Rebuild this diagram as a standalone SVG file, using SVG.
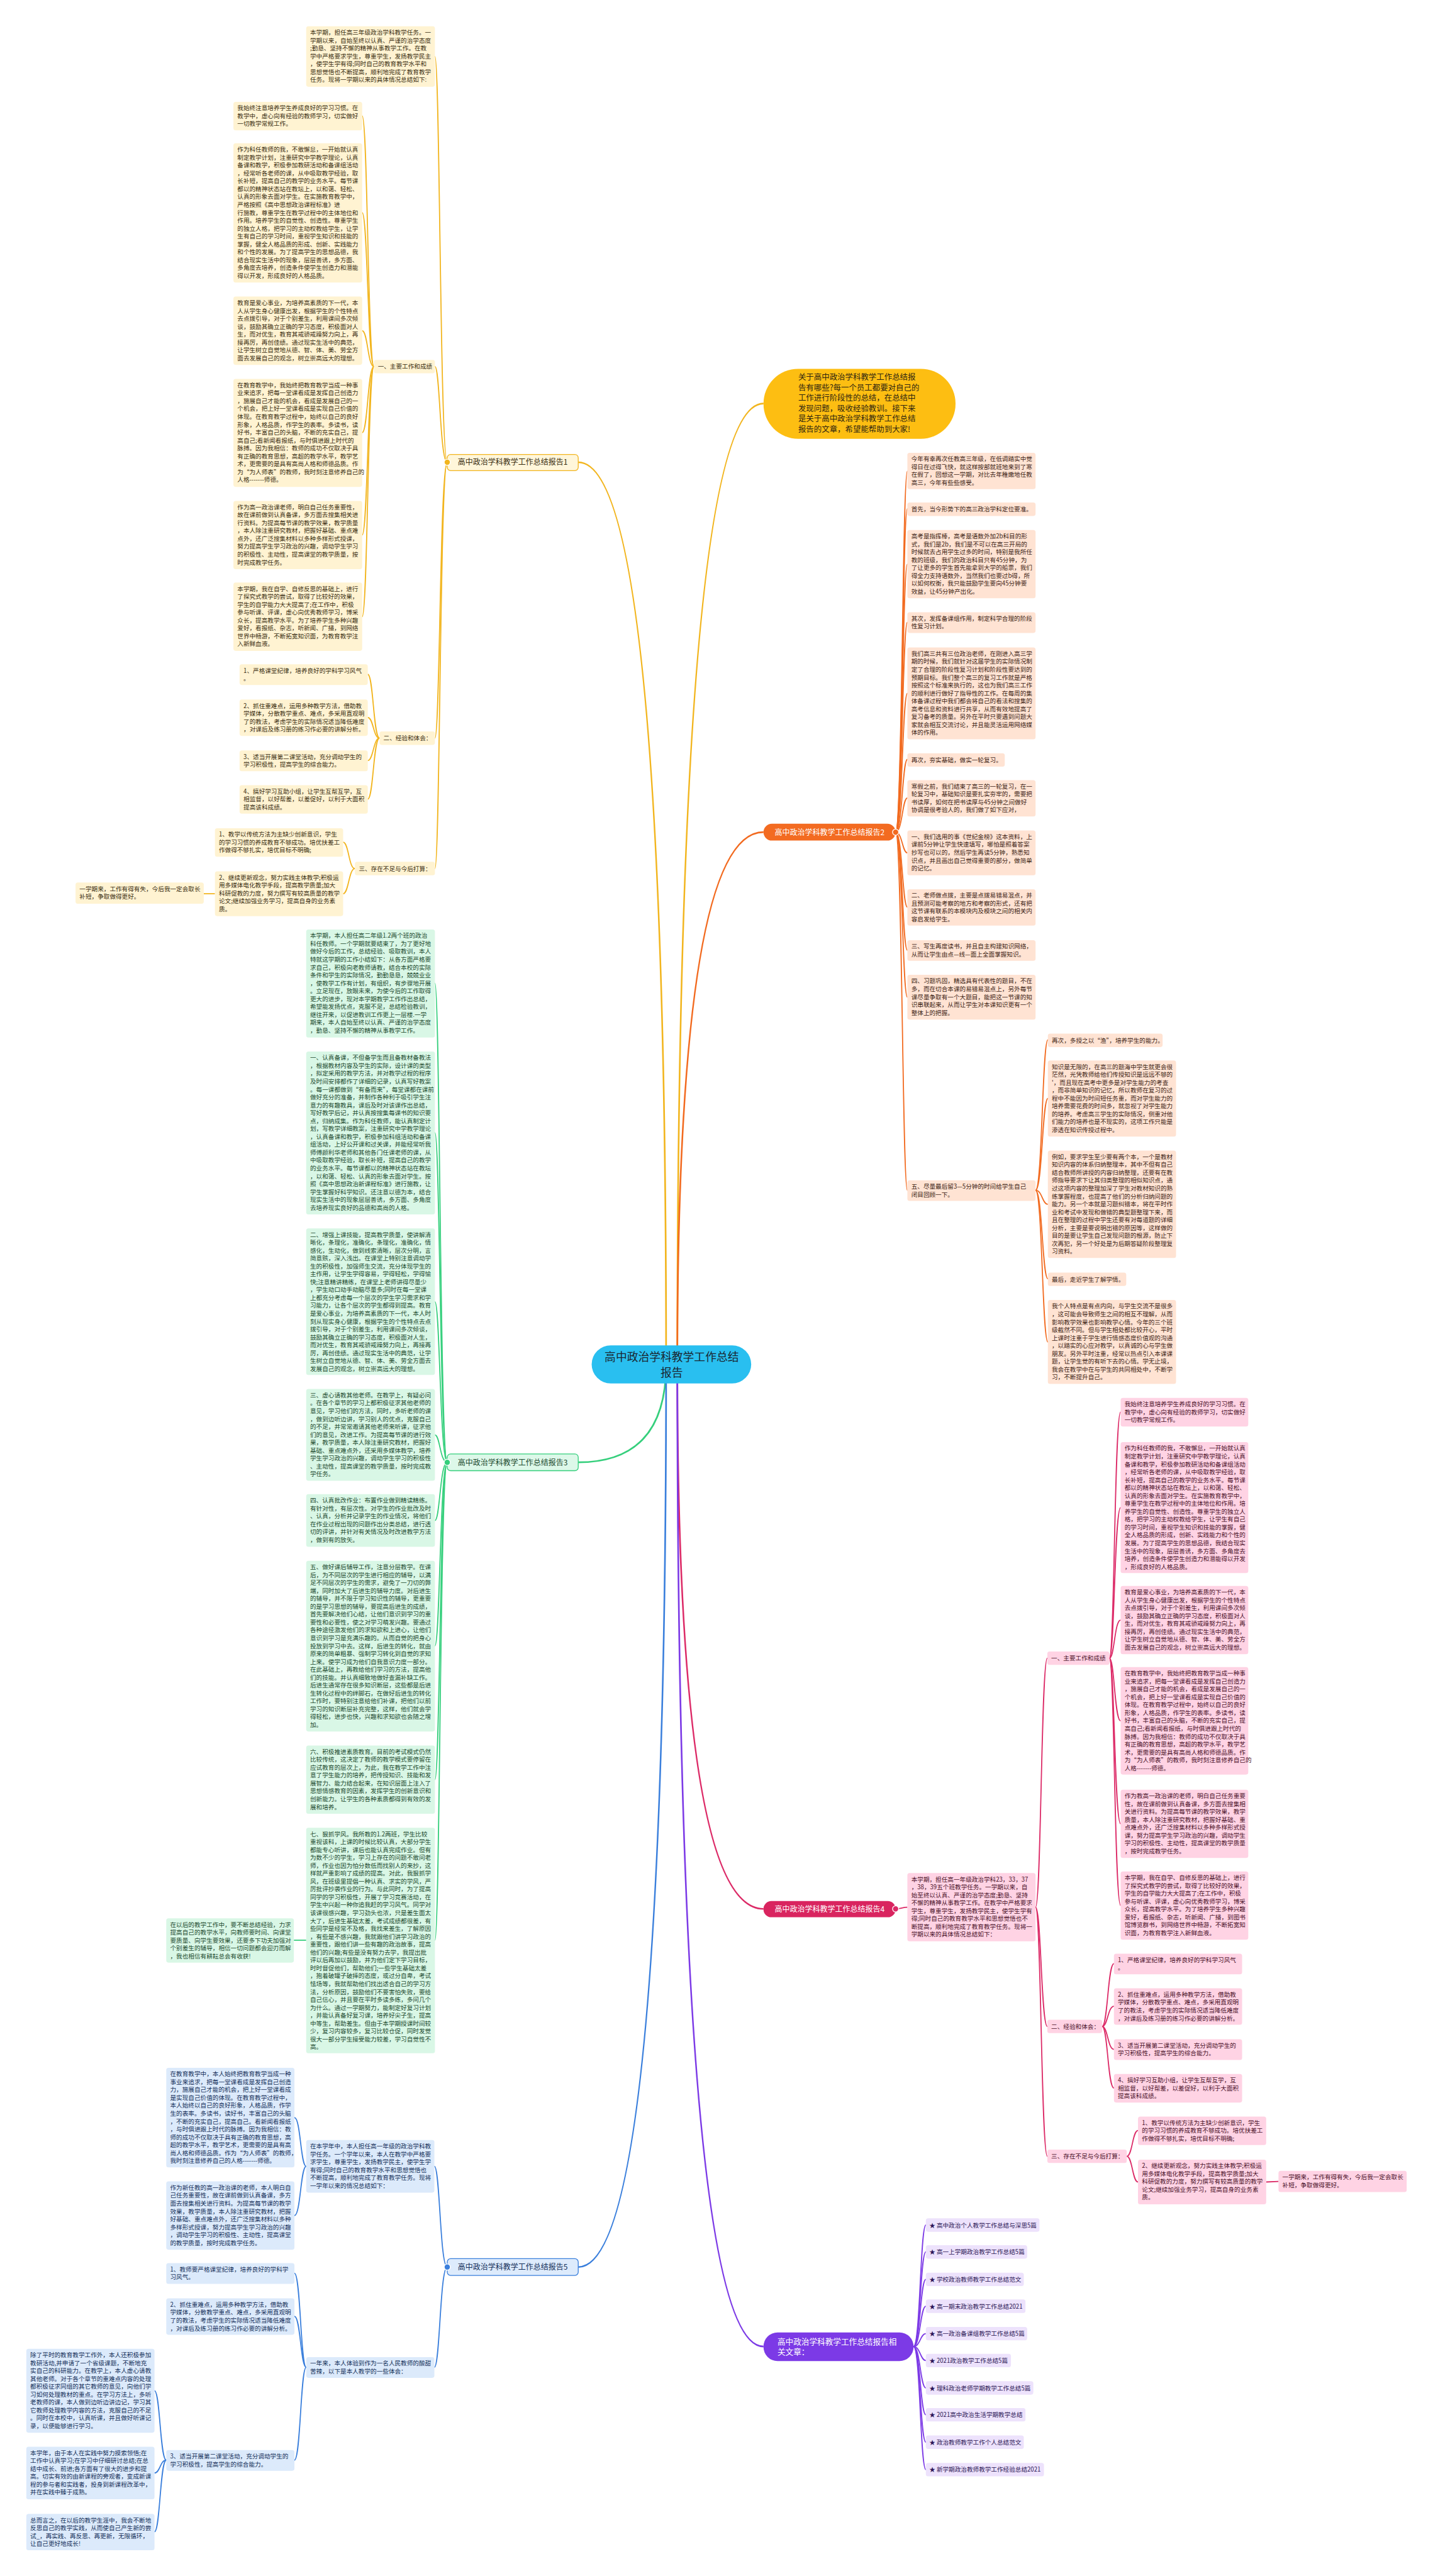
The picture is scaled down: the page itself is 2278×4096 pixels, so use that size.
<svg xmlns="http://www.w3.org/2000/svg" width="2278" height="4096" viewBox="0 0 2278 4096">
<style>
text{font-family:"Noto Sans CJK SC","Noto Sans",sans-serif;font-size:10.8px}
.c path{fill:none;stroke-width:2}
.m{stroke-width:3!important}
.cy{stroke:#F2B51E}.co{stroke:#F26A1F}.cg{stroke:#35CF7C}.cp{stroke:#DC2A67}.cb{stroke:#3A7FDC}.cu{stroke:#7C3AE6}
.y rect{fill:#FFF3D2}.y text{fill:#3a2e10}
.o rect{fill:#FFE3D3}.o text{fill:#3d2313}
.g rect{fill:#D9F7E6}.g text{fill:#1c4a2f}
.p rect{fill:#FFD3E4}.p text{fill:#4a1029}
.b rect{fill:#DCEAFB}.b text{fill:#14305a}
.u rect{fill:#EDE2FC}.u text{fill:#2c1656}
.bn{font-size:13.5px}
</style>
<g transform="scale(0.88984)">
<g id="connectors" class="c">
<path class="cy m" d="M1190 2438 Q1190 826 1033 826"/>
<path class="cg m" d="M1190 2438 Q1190 2613 1033 2613"/>
<path class="cb m" d="M1190 2438 Q1190 4051 1033 4051"/>
<path class="cy m" d="M1210 2438 Q1210 721 1364 721"/>
<path class="co m" d="M1210 2438 Q1210 1487 1364 1487"/>
<path class="cp m" d="M1210 2438 Q1210 3411 1364 3411"/>
<path class="cu m" d="M1210 2438 Q1210 4193 1364 4193"/>
<path class="cy" d="M799 826 C786 826 786 101 777 101"/>
<path class="cy" d="M799 826 C786 826 786 655 777 655"/>
<path class="cy" d="M799 826 C786 826 786 1319 777 1319"/>
<path class="cy" d="M799 826 C786 826 786 1552 777 1552"/>
<path class="cy" d="M668 655 C657 655 657 207 647 207"/>
<path class="cy" d="M668 655 C657 655 657 380 647 380"/>
<path class="cy" d="M668 655 C657 655 657 591 647 591"/>
<path class="cy" d="M668 655 C657 655 657 773 647 773"/>
<path class="cy" d="M668 655 C657 655 657 956 647 956"/>
<path class="cy" d="M668 655 C657 655 657 1102 647 1102"/>
<path class="cy" d="M678 1319 C667 1319 667 1205 657 1205"/>
<path class="cy" d="M678 1319 C667 1319 667 1282 657 1282"/>
<path class="cy" d="M678 1319 C667 1319 667 1359 657 1359"/>
<path class="cy" d="M678 1319 C667 1319 667 1428 657 1428"/>
<path class="cy" d="M634 1552 C623 1552 623 1505 613 1505"/>
<path class="cy" d="M634 1552 C623 1552 623 1597 613 1597"/>
<path class="cy" d="M384 1597 L364 1597"/>
<path class="cg" d="M799 2613 C786 2613 786 1757 777 1757"/>
<path class="cg" d="M799 2613 C786 2613 786 2024 777 2024"/>
<path class="cg" d="M799 2613 C786 2613 786 2326 777 2326"/>
<path class="cg" d="M799 2613 C786 2613 786 2564 777 2564"/>
<path class="cg" d="M799 2613 C786 2613 786 2717 777 2717"/>
<path class="cg" d="M799 2613 C786 2613 786 2941 777 2941"/>
<path class="cg" d="M799 2613 C786 2613 786 3180 777 3180"/>
<path class="cg" d="M799 2613 C786 2613 786 3467 777 3467"/>
<path class="cg" d="M547 3467 L525 3467"/>
<path class="cb" d="M799 4051 C786 4051 786 3871 776 3871"/>
<path class="cb" d="M799 4051 C786 4051 786 4230 776 4230"/>
<path class="cb" d="M547 3871 C537 3871 537 3784 526 3784"/>
<path class="cb" d="M547 3871 C537 3871 537 3959 526 3959"/>
<path class="cb" d="M547 4230 C537 4230 537 4062 526 4062"/>
<path class="cb" d="M547 4230 C537 4230 537 4139 526 4139"/>
<path class="cb" d="M547 4230 C537 4230 537 4396 526 4396"/>
<path class="cb" d="M297 4396 C286 4396 286 4272 276 4272"/>
<path class="cb" d="M297 4396 C286 4396 286 4419 276 4419"/>
<path class="cb" d="M297 4396 C286 4396 286 4524 276 4524"/>
<path class="co" d="M1600 1487 C1612 1487 1612 842 1621 842"/>
<path class="co" d="M1600 1487 C1612 1487 1612 909 1621 909"/>
<path class="co" d="M1600 1487 C1612 1487 1612 1008 1621 1008"/>
<path class="co" d="M1600 1487 C1612 1487 1612 1112 1621 1112"/>
<path class="co" d="M1600 1487 C1612 1487 1612 1239 1621 1239"/>
<path class="co" d="M1600 1487 C1612 1487 1612 1357 1621 1357"/>
<path class="co" d="M1600 1487 C1612 1487 1612 1426 1621 1426"/>
<path class="co" d="M1600 1487 C1612 1487 1612 1524 1621 1524"/>
<path class="co" d="M1600 1487 C1612 1487 1612 1621 1621 1621"/>
<path class="co" d="M1600 1487 C1612 1487 1612 1698 1621 1698"/>
<path class="co" d="M1600 1487 C1612 1487 1612 1782 1621 1782"/>
<path class="co" d="M1600 1487 C1612 1487 1612 2127 1621 2127"/>
<path class="co" d="M1850 2127 C1862 2127 1862 1858 1872 1858"/>
<path class="co" d="M1850 2127 C1862 2127 1862 1963 1872 1963"/>
<path class="co" d="M1850 2127 C1862 2127 1862 2152 1872 2152"/>
<path class="co" d="M1850 2127 C1862 2127 1862 2285 1872 2285"/>
<path class="co" d="M1850 2127 C1862 2127 1862 2398 1872 2398"/>
<path class="cp" d="M1600 3411 C1611 3411 1611 3408 1621 3408"/>
<path class="cp" d="M1850 3408 C1860 3408 1860 2963 1871 2963"/>
<path class="cp" d="M1850 3408 C1860 3408 1860 3621 1871 3621"/>
<path class="cp" d="M1850 3408 C1860 3408 1860 3853 1871 3853"/>
<path class="cp" d="M1982 2963 C1991 2963 1991 2523 2002 2523"/>
<path class="cp" d="M1982 2963 C1991 2963 1991 2694 2002 2694"/>
<path class="cp" d="M1982 2963 C1991 2963 1991 2895 2002 2895"/>
<path class="cp" d="M1982 2963 C1991 2963 1991 3075 2002 3075"/>
<path class="cp" d="M1982 2963 C1991 2963 1991 3259 2002 3259"/>
<path class="cp" d="M1982 2963 C1991 2963 1991 3405 2002 3405"/>
<path class="cp" d="M1969 3621 C1979 3621 1979 3509 1990 3509"/>
<path class="cp" d="M1969 3621 C1979 3621 1979 3585 1990 3585"/>
<path class="cp" d="M1969 3621 C1979 3621 1979 3662 1990 3662"/>
<path class="cp" d="M1969 3621 C1979 3621 1979 3731 1990 3731"/>
<path class="cp" d="M2013 3853 C2023 3853 2023 3807 2033 3807"/>
<path class="cp" d="M2013 3853 C2023 3853 2023 3899 2033 3899"/>
<path class="cp" d="M2262 3899 L2284 3898"/>
<path class="cu" d="M1632 4193 C1644 4193 1644 3976 1654 3976"/>
<path class="cu" d="M1632 4193 C1644 4193 1644 4024 1654 4024"/>
<path class="cu" d="M1632 4193 C1644 4193 1644 4073 1654 4073"/>
<path class="cu" d="M1632 4193 C1644 4193 1644 4121 1654 4121"/>
<path class="cu" d="M1632 4193 C1644 4193 1644 4170 1654 4170"/>
<path class="cu" d="M1632 4193 C1644 4193 1644 4218 1654 4218"/>
<path class="cu" d="M1632 4193 C1644 4193 1644 4267 1654 4267"/>
<path class="cu" d="M1632 4193 C1644 4193 1644 4315 1654 4315"/>
<path class="cu" d="M1632 4193 C1644 4193 1644 4364 1654 4364"/>
<path class="cu" d="M1632 4193 C1644 4193 1644 4413 1654 4413"/>
</g>

<g id="center">
<rect x="1057" y="2404" width="285" height="68" rx="34" fill="#29BFF0"/>
<text x="1200" y="2432" text-anchor="middle" style="font-size:20px" fill="#1a2630">高中政治学科教学工作总结</text>
<text x="1200" y="2460" text-anchor="middle" style="font-size:20px" fill="#1a2630">报告</text>
</g>

<g id="intro">
<rect x="1364" y="659" width="343" height="125" rx="62" fill="#FDBE12"/>
<text fill="#2d2410" style="font-size:14px"><tspan x="1426" y="679">关于高中政治学科教学工作总结报</tspan><tspan x="1426" y="698">告有哪些?每一个员工都要对自己的</tspan><tspan x="1426" y="716">工作进行阶段性的总结，在总结中</tspan><tspan x="1426" y="735">发现问题，吸收经验教训。接下来</tspan><tspan x="1426" y="753">是关于高中政治学科教学工作总结</tspan><tspan x="1426" y="772">报告的文章，希望能帮助到大家!</tspan></text>
</g>

<g id="b1" class="y">
<rect x="799" y="812" width="234" height="29" rx="6" style="fill:#FFF6DA;stroke:#F2B51E;stroke-width:1.5"/>
<text x="916" y="831" text-anchor="middle" class="bn">高中政治学科教学工作总结报告1</text>
<circle cx="799" cy="826" r="5.5" fill="#F2B51E" stroke="#fff" stroke-width="1.5"/>
</g>
<g id="b1-intro" class="y"><rect x="547" y="47" width="230" height="108" rx="4"/>
<text><tspan x="554" y="62">本学期，担任高三年级政治学科教学任务。一</tspan><tspan x="554" dy="14.1">学期以来，自始至终以认真、严谨的治学态度</tspan><tspan x="554" dy="14.1">;勤恳、坚持不懈的精神从事教学工作。在教</tspan><tspan x="554" dy="14.1">学中严格要求学生，尊重学生，发扬教学民主</tspan><tspan x="554" dy="14.1">，使学生学有得;同时自己的教育教学水平和</tspan><tspan x="554" dy="14.1">思想觉悟也不断提高，顺利地完成了教育教学</tspan><tspan x="554" dy="14.1">任务。现将一学期以来的具体情况总结如下:</tspan></text></g>
<g id="b1-l1" class="y"><rect x="668" y="643" width="109" height="24" rx="4"/><text x="675" y="659">一、主要工作和成绩</text></g>
<g id="b1-l1a" class="y"><rect x="417" y="182" width="230" height="51" rx="4"/>
<text><tspan x="424" y="197">我始终注意培养学生养成良好的学习习惯。在</tspan><tspan x="424" dy="14.1">教学中，虚心向有经验的教师学习，切实做好</tspan><tspan x="424" dy="14.1">一切教学常规工作。</tspan></text></g>
<g id="b1-l1b" class="y"><rect x="417" y="256" width="230" height="249" rx="4"/>
<text><tspan x="424" y="271">作为科任教师的我，不敢懈怠，一开始就认真</tspan><tspan x="424" dy="14.1">制定教学计划，注重研究中学教学理论，认真</tspan><tspan x="424" dy="14.1">备课和教学，积极参加教研活动和备课组活动</tspan><tspan x="424" dy="14.1">，经常听各老师的课，从中吸取教学经验，取</tspan><tspan x="424" dy="14.1">长补短，提高自己的教学的业务水平。每节课</tspan><tspan x="424" dy="14.1">都以的精神状态站在教坛上，以和蔼、轻松、</tspan><tspan x="424" dy="14.1">认真的形象去面对学生。在实施教育教学中，</tspan><tspan x="424" dy="14.1">严格按照《高中思想政治课程标准》进</tspan><tspan x="424" dy="14.1">行施教，尊重学生在教学过程中的主体地位和</tspan><tspan x="424" dy="14.1">作用。培养学生的自觉性、创造性。尊重学生</tspan><tspan x="424" dy="14.1">的独立人格，把学习的主动权教给学生，让学</tspan><tspan x="424" dy="14.1">生有自己的学习时间，重视学生知识和技能的</tspan><tspan x="424" dy="14.1">掌握，健全人格品质的形成、创新、实践能力</tspan><tspan x="424" dy="14.1">和个性的发展。为了提高学生的思想品德，我</tspan><tspan x="424" dy="14.1">结合现实生活中的现象，层层善诱，多方面、</tspan><tspan x="424" dy="14.1">多角度去培养，创造条件使学生创造力和潜能</tspan><tspan x="424" dy="14.1">得以开发，形成良好的人格品质。</tspan></text></g>
<g id="b1-l1c" class="y"><rect x="417" y="530" width="230" height="122" rx="4"/>
<text><tspan x="424" y="545">教育是爱心事业，为培养高素质的下一代，本</tspan><tspan x="424" dy="14.1">人从学生身心健康出发，根据学生的个性特点</tspan><tspan x="424" dy="14.1">去点拨引导，对于个别差生，利用课间多次倾</tspan><tspan x="424" dy="14.1">谈，鼓励其确立正确的学习态度，积极面对人</tspan><tspan x="424" dy="14.1">生，而对优生，教育其戒骄戒躁努力向上，再</tspan><tspan x="424" dy="14.1">接再厉，再创佳绩。通过现实生活中的典范，</tspan><tspan x="424" dy="14.1">让学生树立自觉地从德、智、体、美、劳全方</tspan><tspan x="424" dy="14.1">面去发展自己的观念，树立崇高远大的理想。</tspan></text></g>
<g id="b1-l1d" class="y"><rect x="417" y="677" width="230" height="193" rx="4"/>
<text><tspan x="424" y="692">在教育教学中，我始终把教育教学当成一种事</tspan><tspan x="424" dy="14.1">业来追求，把每一堂课看成是发挥自己创造力</tspan><tspan x="424" dy="14.1">，施展自己才能的机会，看成是发展自己的一</tspan><tspan x="424" dy="14.1">个机会，把上好一堂课看成是实现自己价值的</tspan><tspan x="424" dy="14.1">体现。在教育教学过程中，始终以自己的良好</tspan><tspan x="424" dy="14.1">形象，人格品质，作学生的表率。多读书，读</tspan><tspan x="424" dy="14.1">好书，丰富自己的头脑，不断的充实自己，提</tspan><tspan x="424" dy="14.1">高自己;看新闻看报纸，与时俱进跟上时代的</tspan><tspan x="424" dy="14.1">脉搏。因为我相信：教师的成功不仅取决于具</tspan><tspan x="424" dy="14.1">有正确的教育思想，高超的教学水平，教学艺</tspan><tspan x="424" dy="14.1">术，更需要的是具有高尚人格和师德品质。作</tspan><tspan x="424" dy="14.1">为“为人师表”的教师，我时刻注意修养自己的</tspan><tspan x="424" dy="14.1">人格-------师德。</tspan></text></g>
<g id="b1-l1e" class="y"><rect x="417" y="895" width="230" height="122" rx="4"/>
<text><tspan x="424" y="910">作为高一政治课老师，明白自己任务重要性，</tspan><tspan x="424" dy="14.1">故在课前做到认真备课，多方面去搜集相关进</tspan><tspan x="424" dy="14.1">行资料。为提高每节课的教学效果，教学质量</tspan><tspan x="424" dy="14.1">，本人除注重研究教材，把握好基础、重点难</tspan><tspan x="424" dy="14.1">点外，还广泛搜集材料以多种多样形式授课，</tspan><tspan x="424" dy="14.1">努力提高学生学习政治的兴趣，调动学生学习</tspan><tspan x="424" dy="14.1">的积极性、主动性，提高课堂的教学质量，按</tspan><tspan x="424" dy="14.1">时完成教学任务。</tspan></text></g>
<g id="b1-l1f" class="y"><rect x="417" y="1041" width="230" height="122" rx="4"/>
<text><tspan x="424" y="1056">本学期，我在自学、自修反思的基础上，进行</tspan><tspan x="424" dy="14.1">了探究式教学的尝试，取得了比较好的效果，</tspan><tspan x="424" dy="14.1">学生的自学能力大大提高了;在工作中，积极</tspan><tspan x="424" dy="14.1">参与听课、评课，虚心向优秀教师学习，博采</tspan><tspan x="424" dy="14.1">众长，提高教学水平。为了培养学生多种兴趣</tspan><tspan x="424" dy="14.1">爱好，看报纸、杂志，听新闻、广播，到网络</tspan><tspan x="424" dy="14.1">世界中畅游，不断拓宽知识面，为教育教学注</tspan><tspan x="424" dy="14.1">入新鲜血液。</tspan></text></g>
<g id="b1-l2" class="y"><rect x="678" y="1307" width="99" height="24" rx="4"/><text x="685" y="1323">二、经验和体会：</text></g>
<g id="b1-l2a" class="y"><rect x="428" y="1187" width="229" height="37" rx="4"/>
<text><tspan x="435" y="1202">1、严格课堂纪律，培养良好的学科学习风气</tspan><tspan x="435" dy="14.1">。</tspan></text></g>
<g id="b1-l2b" class="y"><rect x="428" y="1250" width="229" height="65" rx="4"/>
<text><tspan x="435" y="1265">2、抓住重难点，运用多种教学方法，借助教</tspan><tspan x="435" dy="14.1">学媒体，分散教学重点、难点，多采用直观明</tspan><tspan x="435" dy="14.1">了的教法，考虑学生的实际情况适当降低难度</tspan><tspan x="435" dy="14.1">，对课后及练习册的练习作必要的讲解分析。</tspan></text></g>
<g id="b1-l2c" class="y"><rect x="428" y="1341" width="229" height="37" rx="4"/>
<text><tspan x="435" y="1356">3、适当开展第二课堂活动，充分调动学生的</tspan><tspan x="435" dy="14.1">学习积极性，提高学生的综合能力。</tspan></text></g>
<g id="b1-l2d" class="y"><rect x="428" y="1403" width="229" height="51" rx="4"/>
<text><tspan x="435" y="1418">4、搞好学习互助小组，让学生互帮互学，互</tspan><tspan x="435" dy="14.1">相监督，以好帮差，以差促好，以利于大面积</tspan><tspan x="435" dy="14.1">提高该科成绩。</tspan></text></g>
<g id="b1-l3" class="y"><rect x="634" y="1540" width="143" height="24" rx="4"/><text x="641" y="1556">三、存在不足与今后打算：</text></g>
<g id="b1-l3a" class="y"><rect x="384" y="1480" width="229" height="51" rx="4"/>
<text><tspan x="391" y="1495">1、教学以传统方法为主缺少创新意识，学生</tspan><tspan x="391" dy="14.1">的学习习惯的养成教育不够成功。培优扶差工</tspan><tspan x="391" dy="14.1">作做得不够扎实，培优目标不明确;</tspan></text></g>
<g id="b1-l3b" class="y"><rect x="384" y="1557" width="229" height="80" rx="4"/>
<text><tspan x="391" y="1572">2、继续更新观念，努力实践主体教学;积极运</tspan><tspan x="391" dy="14.1">用多媒体电化教学手段，提高教学质量;加大</tspan><tspan x="391" dy="14.1">科研促教的力度，努力撰写有较高质量的教学</tspan><tspan x="391" dy="14.1">论文;继续加强业务学习，提高自身的业务素</tspan><tspan x="391" dy="14.1">质。</tspan></text></g>
<g id="b1-note" class="y"><rect x="135" y="1577" width="229" height="38" rx="4"/>
<text><tspan x="142" y="1592">一学期来，工作有得有失，今后我一定会取长</tspan><tspan x="142" dy="14.1">补短，争取做得更好。</tspan></text></g>

<g id="b2" class="o">
<rect x="1364" y="1472" width="236" height="30" rx="15" style="fill:#F36B21"/>
<text x="1482" y="1492" text-anchor="middle" class="bn" style="fill:#fff">高中政治学科教学工作总结报告2</text>
<circle cx="1600" cy="1487" r="5.5" fill="#F26A1F" stroke="#fff" stroke-width="1.5"/>
</g>
<g id="b2-1" class="o"><rect x="1621" y="809" width="229" height="65" rx="4"/>
<text><tspan x="1628" y="824">今年有幸再次任教高三年级，在低调踏实中觉</tspan><tspan x="1628" dy="14.1">得日在过得飞快，就这样按部就班地来到了寒</tspan><tspan x="1628" dy="14.1">在假了，回想这一学期，对比去年稚嫩地任教</tspan><tspan x="1628" dy="14.1">高三，今年有些些感受。</tspan></text></g>
<g id="b2-2" class="o"><rect x="1621" y="898" width="229" height="24" rx="4"/><text x="1628" y="914">首先，当今形势下的高三政治学科定位要准。</text></g>
<g id="b2-3" class="o"><rect x="1621" y="947" width="229" height="122" rx="4"/>
<text><tspan x="1628" y="962">高考是指挥棒，高考是语数外加2b科目的形</tspan><tspan x="1628" dy="14.1">式，我们是2b，我们是不可以在高三开局的</tspan><tspan x="1628" dy="14.1">时候就去占用学生过多的时间，特别是我所任</tspan><tspan x="1628" dy="14.1">教的班级，我们的政治科目只有45分钟，为</tspan><tspan x="1628" dy="14.1">了让更多的学生首先能拿到大学的船票，我们</tspan><tspan x="1628" dy="14.1">得全力支持语数外，当然我们也要过b得，所</tspan><tspan x="1628" dy="14.1">以如何权衡，我只能鼓励学生要向45分钟要</tspan><tspan x="1628" dy="14.1">效益，让45分钟产出化。</tspan></text></g>
<g id="b2-4" class="o"><rect x="1621" y="1094" width="229" height="37" rx="4"/>
<text><tspan x="1628" y="1109">其次，发挥备课组作用，制定科学合理的阶段</tspan><tspan x="1628" dy="14.1">性复习计划。</tspan></text></g>
<g id="b2-5" class="o"><rect x="1621" y="1157" width="229" height="164" rx="4"/>
<text><tspan x="1628" y="1172">我们高三共有三位政治老师，在刚进入高三学</tspan><tspan x="1628" dy="14.1">期的时候，我们就针对这届学生的实际情况制</tspan><tspan x="1628" dy="14.1">定了合理的阶段性复习计划和阶段性要达到的</tspan><tspan x="1628" dy="14.1">预期目标。我们整个高三的复习工作就是严格</tspan><tspan x="1628" dy="14.1">按照这个标准来执行的，这也为我们高三工作</tspan><tspan x="1628" dy="14.1">的顺利进行做好了指导性的工作。在每周的集</tspan><tspan x="1628" dy="14.1">体备课过程中我们都会将自己的看法和搜集的</tspan><tspan x="1628" dy="14.1">高考信息和资料进行共享，从而有效地提高了</tspan><tspan x="1628" dy="14.1">复习备考的质量。另外在平时只要遇到问题大</tspan><tspan x="1628" dy="14.1">家就会相互交流讨论，并且能灵活运用网络媒</tspan><tspan x="1628" dy="14.1">体的作用。</tspan></text></g>
<g id="b2-6" class="o"><rect x="1621" y="1346" width="174" height="24" rx="4"/><text x="1628" y="1362">再次，夯实基础，做实一轮复习。</text></g>
<g id="b2-7" class="o"><rect x="1621" y="1394" width="229" height="65" rx="4"/>
<text><tspan x="1628" y="1409">寒假之前，我们结束了高三的一轮复习，在一</tspan><tspan x="1628" dy="14.1">轮复习中，基础知识是要扎实夯牢的，需要把</tspan><tspan x="1628" dy="14.1">书读厚，如何在把书读厚与45分钟之间做好</tspan><tspan x="1628" dy="14.1">协调是很考验人的，我们做了如下应对，</tspan></text></g>
<g id="b2-8" class="o"><rect x="1621" y="1484" width="229" height="80" rx="4"/>
<text><tspan x="1628" y="1499">一、我们选用的事《世纪金榜》这本资料，上</tspan><tspan x="1628" dy="14.1">课前5分钟让学生快速填写，哪怕是照着答案</tspan><tspan x="1628" dy="14.1">抄写也可以的，然后学生再读5分钟，熟悉知</tspan><tspan x="1628" dy="14.1">识点，并且画出自己觉得重要的部分，做简单</tspan><tspan x="1628" dy="14.1">的记忆。</tspan></text></g>
<g id="b2-9" class="o"><rect x="1621" y="1589" width="229" height="65" rx="4"/>
<text><tspan x="1628" y="1604">二、老师做点拨，主要是点拨易错易混点，并</tspan><tspan x="1628" dy="14.1">且预测可能考察的地方和考察的形式，还有把</tspan><tspan x="1628" dy="14.1">这节课有联系的本模块内及模块之间的相关内</tspan><tspan x="1628" dy="14.1">容启发给学生。</tspan></text></g>
<g id="b2-10" class="o"><rect x="1621" y="1680" width="229" height="37" rx="4"/>
<text><tspan x="1628" y="1695">三、写生再度读书，并且自主构建知识网络，</tspan><tspan x="1628" dy="14.1">从而让学生由点—线—面上全面掌握知识。</tspan></text></g>
<g id="b2-11" class="o"><rect x="1621" y="1742" width="229" height="80" rx="4"/>
<text><tspan x="1628" y="1757">四、习题巩固，精选具有代表性的题目，不在</tspan><tspan x="1628" dy="14.1">多，而在切合本课的易错易混点上，另外每节</tspan><tspan x="1628" dy="14.1">课尽量争取有一个大题目，能把这一节课的知</tspan><tspan x="1628" dy="14.1">识串联起来，从而让学生对本课知识更有一个</tspan><tspan x="1628" dy="14.1">整体上的把握。</tspan></text></g>
<g id="b2-12" class="o"><rect x="1621" y="2109" width="229" height="37" rx="4"/>
<text><tspan x="1628" y="2124">五、尽量最后留3—5分钟的时间给学生自己</tspan><tspan x="1628" dy="14.1">闭目回顾一下。</tspan></text></g>
<g id="b2-12a" class="o"><rect x="1872" y="1847" width="205" height="24" rx="4"/><text x="1879" y="1863">再次，多授之以“渔”，培养学生的能力。</text></g>
<g id="b2-12b" class="o"><rect x="1872" y="1895" width="229" height="136" rx="4"/>
<text><tspan x="1879" y="1910">知识是无限的，在高三的题海中学生就更会很</tspan><tspan x="1879" dy="14.1">茫然，光凭教师给他们传授知识是远远不够的</tspan><tspan x="1879" dy="14.1">'，而且现在高考中更多是对学生能力的考查</tspan><tspan x="1879" dy="14.1">，而非简单知识的记忆，所以教师在复习的过</tspan><tspan x="1879" dy="14.1">程中不能因为时间短任务重，而对学生能力的</tspan><tspan x="1879" dy="14.1">培养需要花费的时间多，就忽视了对学生能力</tspan><tspan x="1879" dy="14.1">的培养。考虑高三学生的实际情况，侧重对他</tspan><tspan x="1879" dy="14.1">们能力的培养也是不现实的，这项工作只能是</tspan><tspan x="1879" dy="14.1">渗透在知识传授过程中。</tspan></text></g>
<g id="b2-12c" class="o"><rect x="1872" y="2056" width="229" height="192" rx="4"/>
<text><tspan x="1879" y="2071">例如，要求学生至少要有两个本，一个是教材</tspan><tspan x="1879" dy="14.1">知识内容的体系归纳整理本，其中不但有自己</tspan><tspan x="1879" dy="14.1">结合教师所讲授的内容归纳整理，还要有在教</tspan><tspan x="1879" dy="14.1">师指导要求下让其归类整理的相似知识点，通</tspan><tspan x="1879" dy="14.1">过这项内容的整理加深了学生对教材知识的熟</tspan><tspan x="1879" dy="14.1">练掌握程度，也提高了他们的分析归纳问题的</tspan><tspan x="1879" dy="14.1">能力。另一个本就是习题纠错本，将在平时作</tspan><tspan x="1879" dy="14.1">业和考试中发现和做错的典型题整理下来，而</tspan><tspan x="1879" dy="14.1">且在整理的过程中学生还要有对每道题的详细</tspan><tspan x="1879" dy="14.1">分析，主要是要说明出错的原因等，这样做的</tspan><tspan x="1879" dy="14.1">目的是要让学生自己发现问题的根源，防止下</tspan><tspan x="1879" dy="14.1">次再犯，另一个好处是为后期答疑阶段整理复</tspan><tspan x="1879" dy="14.1">习资料。</tspan></text></g>
<g id="b2-12d" class="o"><rect x="1872" y="2274" width="140" height="24" rx="4"/><text x="1879" y="2290">最后，走近学生了解学情。</text></g>
<g id="b2-12e" class="o"><rect x="1872" y="2323" width="229" height="150" rx="4"/>
<text><tspan x="1879" y="2338">我个人特点是有点内向，与学生交流不是很多</tspan><tspan x="1879" dy="14.1">，这可能会导致师生之间的相互不理解，从而</tspan><tspan x="1879" dy="14.1">影响教学效果也影响教学心情。今年的三个班</tspan><tspan x="1879" dy="14.1">级截然不同。但与学生相处都比较开心，平时</tspan><tspan x="1879" dy="14.1">上课时注重于学生进行情感态度价值观的沟通</tspan><tspan x="1879" dy="14.1">，以踏实的心应对教学，以真诚的心与学生做</tspan><tspan x="1879" dy="14.1">朋友。另外平时注重，经常以热点引入本课课</tspan><tspan x="1879" dy="14.1">题，让学生觉的有听下去的心情。学无止境，</tspan><tspan x="1879" dy="14.1">我会在教学中在与学生的共同相处中，不断学</tspan><tspan x="1879" dy="14.1">习，不断提升自己。</tspan></text></g>

<g id="b3" class="g">
<rect x="799" y="2598" width="234" height="30" rx="6" style="fill:#DDF8E9;stroke:#35CF7C;stroke-width:1.5"/>
<text x="916" y="2618" text-anchor="middle" class="bn">高中政治学科教学工作总结报告3</text>
<circle cx="799" cy="2613" r="5.5" fill="#35CF7C" stroke="#fff" stroke-width="1.5"/>
</g>
<g id="b3-1" class="g"><rect x="547" y="1661" width="230" height="193" rx="4"/>
<text><tspan x="554" y="1676">本学期，本人担任高二年级1.2两个班的政治</tspan><tspan x="554" dy="14.1">科任教师。一个学期就要结束了，为了更好地</tspan><tspan x="554" dy="14.1">做好今后的工作，总结经验、吸取教训，本人</tspan><tspan x="554" dy="14.1">特就这学期的工作小结如下：从各方面严格要</tspan><tspan x="554" dy="14.1">求自己，积极向老教师请教，结合本校的实际</tspan><tspan x="554" dy="14.1">条件和学生的实际情况，勤勤恳恳，兢兢业业</tspan><tspan x="554" dy="14.1">，使教学工作有计划，有组织，有步骤地开展</tspan><tspan x="554" dy="14.1">。立足现在，放眼未来，为使今后的工作取得</tspan><tspan x="554" dy="14.1">更大的进步，现对本学期教学工作作出总结，</tspan><tspan x="554" dy="14.1">希望能发扬优点，克服不足，总结检验教训，</tspan><tspan x="554" dy="14.1">继往开来，以促进教训工作更上一层楼.一学</tspan><tspan x="554" dy="14.1">期来，本人自始至终以认真、严谨的治学态度</tspan><tspan x="554" dy="14.1">，勤恳、坚持不懈的精神从事教学工作。</tspan></text></g>
<g id="b3-2" class="g"><rect x="547" y="1879" width="230" height="291" rx="4"/>
<text><tspan x="554" y="1894">一、认真备课，不但备学生而且备教材备教法</tspan><tspan x="554" dy="14.1">，根据教材内容及学生的实际，设计课的类型</tspan><tspan x="554" dy="14.1">，拟定采用的教学方法，并对教学过程的程序</tspan><tspan x="554" dy="14.1">及时间安排都作了详细的记录，认真写好教案</tspan><tspan x="554" dy="14.1">。每一课都做到“有备而来”，每堂课都在课前</tspan><tspan x="554" dy="14.1">做好充分的准备，并制作各种利于吸引学生注</tspan><tspan x="554" dy="14.1">意力的有趣教具，课后及时对该课作出总结，</tspan><tspan x="554" dy="14.1">写好教学后记，并认真按搜集每课书的知识要</tspan><tspan x="554" dy="14.1">点，归纳成集。作为科任教师，能认真制定计</tspan><tspan x="554" dy="14.1">划，写教学详细教案，注重研究中学教学理论</tspan><tspan x="554" dy="14.1">，认真备课和教学，积极参加科组活动和备课</tspan><tspan x="554" dy="14.1">组活动，上好公开课和过关课，并能经常听我</tspan><tspan x="554" dy="14.1">师傅颜利华老师和其他各门任课老师的课，从</tspan><tspan x="554" dy="14.1">中吸取教学经验，取长补短，提高自己的教学</tspan><tspan x="554" dy="14.1">的业务水平。每节课都以的精神状态站在教坛</tspan><tspan x="554" dy="14.1">，以和蔼、轻松、认真的形象去面对学生。按</tspan><tspan x="554" dy="14.1">照《高中思想政治新课程标准》进行施教，让</tspan><tspan x="554" dy="14.1">学生掌握好科学知识。还注意以德为本，结合</tspan><tspan x="554" dy="14.1">现实生活中的现象层层善诱，多方面、多角度</tspan><tspan x="554" dy="14.1">去培养现实良好的品德和高尚的人格。</tspan></text></g>
<g id="b3-3" class="g"><rect x="547" y="2195" width="230" height="262" rx="4"/>
<text><tspan x="554" y="2210">二、增强上课技能，提高教学质量，使讲解清</tspan><tspan x="554" dy="14.1">晰化，条理化，准确化，条理化，准确化，情</tspan><tspan x="554" dy="14.1">感化，生动化，做到线索清晰，层次分明，言</tspan><tspan x="554" dy="14.1">简意赅，深入浅出。在课堂上特别注意调动学</tspan><tspan x="554" dy="14.1">生的积极性，加强师生交流，充分体现学生的</tspan><tspan x="554" dy="14.1">主作用，让学生学得容易，学得轻松，学得愉</tspan><tspan x="554" dy="14.1">快;注意精讲精练，在课堂上老师讲得尽量少</tspan><tspan x="554" dy="14.1">，学生动口动手动脑尽量多;同时在每一堂课</tspan><tspan x="554" dy="14.1">上都充分考虑每一个层次的学生学习需求和学</tspan><tspan x="554" dy="14.1">习能力，让各个层次的学生都得到提高。教育</tspan><tspan x="554" dy="14.1">是爱心事业，为培养高素质的下一代，本人时</tspan><tspan x="554" dy="14.1">刻从现实身心健康，根据学生的个性特点去点</tspan><tspan x="554" dy="14.1">拨引导，对于个别差生，利用课间多次倾谈，</tspan><tspan x="554" dy="14.1">鼓励其确立正确的学习态度，积极面对人生，</tspan><tspan x="554" dy="14.1">而对优生，教育其戒骄戒躁努力向上，再接再</tspan><tspan x="554" dy="14.1">厉，再创佳绩。通过现实生活中的典范，让学</tspan><tspan x="554" dy="14.1">生树立自觉地从德、智、体、美、劳全方面去</tspan><tspan x="554" dy="14.1">发展自己的观念，树立崇高远大的理想。</tspan></text></g>
<g id="b3-4" class="g"><rect x="547" y="2482" width="230" height="164" rx="4"/>
<text><tspan x="554" y="2497">三、虚心请教其他老师。在教学上，有疑必问</tspan><tspan x="554" dy="14.1">。在各个章节的学习上都积极征求其他老师的</tspan><tspan x="554" dy="14.1">意见，学习他们的方法，同时，多听老师的课</tspan><tspan x="554" dy="14.1">，做到边听边讲，学习别人的优点，克服自己</tspan><tspan x="554" dy="14.1">的不足，并常常邀请其他老师来听课，征求他</tspan><tspan x="554" dy="14.1">们的意见，改进工作。为提高每节课的进行效</tspan><tspan x="554" dy="14.1">果，教学质量，本人除注重研究教材，把握好</tspan><tspan x="554" dy="14.1">基础、重点难点外，还采用多媒体教学，培养</tspan><tspan x="554" dy="14.1">学生学习政治的兴趣，调动学生学习的积极性</tspan><tspan x="554" dy="14.1">、主动性，提高课堂的教学质量，按时完成教</tspan><tspan x="554" dy="14.1">学任务。</tspan></text></g>
<g id="b3-5" class="g"><rect x="547" y="2670" width="230" height="94" rx="4"/>
<text><tspan x="554" y="2685">四、认真批改作业：布置作业做到精读精练。</tspan><tspan x="554" dy="14.1">有针对性，有层次性。对学生的作业批改及时</tspan><tspan x="554" dy="14.1">、认真，分析并记录学生的作业情况，将他们</tspan><tspan x="554" dy="14.1">在作业过程出现的问题作出分类总结，进行透</tspan><tspan x="554" dy="14.1">切的评讲，并针对有关情况及时改进教学方法</tspan><tspan x="554" dy="14.1">，做到有的放矢。</tspan></text></g>
<g id="b3-6" class="g"><rect x="547" y="2789" width="230" height="305" rx="4"/>
<text><tspan x="554" y="2804">五、做好课后辅导工作，注意分层教学。在课</tspan><tspan x="554" dy="14.1">后，为不同层次的学生进行相应的辅导，以满</tspan><tspan x="554" dy="14.1">足不同层次的学生的需求，避免了一刀切的弊</tspan><tspan x="554" dy="14.1">端，同时加大了后进生的辅导力度。对后进生</tspan><tspan x="554" dy="14.1">的辅导，并不限于学习知识性的辅导，更重要</tspan><tspan x="554" dy="14.1">的是学习思想的辅导，要提高后进生的成绩，</tspan><tspan x="554" dy="14.1">首先要解决他们心结，让他们意识到学习的重</tspan><tspan x="554" dy="14.1">要性和必要性，使之对学习萌发兴趣。要通过</tspan><tspan x="554" dy="14.1">各种途径激发他们的求知欲和上进心，让他们</tspan><tspan x="554" dy="14.1">意识到学习是充满乐趣的。从而自觉的把身心</tspan><tspan x="554" dy="14.1">投放到学习中去。这样，后进生的转化，就由</tspan><tspan x="554" dy="14.1">原来的简单粗暴、强制学习转化到自觉的求知</tspan><tspan x="554" dy="14.1">上来。使学习成为他们自我意识力度一部分。</tspan><tspan x="554" dy="14.1">在此基础上，再教给他们学习的方法，提高他</tspan><tspan x="554" dy="14.1">们的技能。并认真细致地做好查漏补缺工作。</tspan><tspan x="554" dy="14.1">后进生通常存在很多知识断层，这些都是后进</tspan><tspan x="554" dy="14.1">生转化过程中的绊脚石，在做好后进生的转化</tspan><tspan x="554" dy="14.1">工作时，要特别注意给他们补课，把他们以前</tspan><tspan x="554" dy="14.1">学习的知识断层补充完整，这样，他们就会学</tspan><tspan x="554" dy="14.1">得轻松，进步也快，兴趣和求知欲也会随之增</tspan><tspan x="554" dy="14.1">加。</tspan></text></g>
<g id="b3-7" class="g"><rect x="547" y="3119" width="230" height="122" rx="4"/>
<text><tspan x="554" y="3134">六、积极推进素质教育。目前的考试模式仍然</tspan><tspan x="554" dy="14.1">比较传统，这决定了教师的教学模式要停留在</tspan><tspan x="554" dy="14.1">应试教育的层次上，为此，我在教学工作中注</tspan><tspan x="554" dy="14.1">意了学生能力的培养，把传授知识、技能和发</tspan><tspan x="554" dy="14.1">展智力、能力结合起来，在知识层面上注入了</tspan><tspan x="554" dy="14.1">思想情感教育的因素，发挥学生的创新意识和</tspan><tspan x="554" dy="14.1">创新能力。让学生的各种素质都得到有效的发</tspan><tspan x="554" dy="14.1">展和培养。</tspan></text></g>
<g id="b3-8" class="g"><rect x="547" y="3266" width="230" height="403" rx="4"/>
<text><tspan x="554" y="3281">七、狠抓学风。我所教的1.2两班，学生比较</tspan><tspan x="554" dy="14.1">重视该科，上课的时候比较认真，大部分学生</tspan><tspan x="554" dy="14.1">都能专心听讲，课后也能认真完成作业。但有</tspan><tspan x="554" dy="14.1">为数不少的学生，学习上存在的问题不敢问老</tspan><tspan x="554" dy="14.1">师，作业也因为怕分数低而找别人的来抄，这</tspan><tspan x="554" dy="14.1">样就严重影响了成绩的提高。对此，我狠抓学</tspan><tspan x="554" dy="14.1">风，在班级里提倡一种认真、求实的学风，严</tspan><tspan x="554" dy="14.1">厉批评抄袭作业的行为。与此同时，为了提高</tspan><tspan x="554" dy="14.1">同学的学习积极性，开展了学习竞赛活动，在</tspan><tspan x="554" dy="14.1">学生中兴起一种你追我赶的学习风气。同学对</tspan><tspan x="554" dy="14.1">该课很感兴趣，学习劲头也浓，只是差生面太</tspan><tspan x="554" dy="14.1">大了，后进生基础太差，考试成绩都很差，有</tspan><tspan x="554" dy="14.1">些同学是经常不及格，我找来差生，了解原因</tspan><tspan x="554" dy="14.1">，有些是不感兴趣，我就跟他们讲学习政治的</tspan><tspan x="554" dy="14.1">重要性，跟他们讲一些有趣的政治故事，提高</tspan><tspan x="554" dy="14.1">他们的兴趣;有些是没有努力去学，我提出批</tspan><tspan x="554" dy="14.1">评以后再加以鼓励，并为他们定下学习目标，</tspan><tspan x="554" dy="14.1">时时督促他们，帮助他们;一些学生基础太差</tspan><tspan x="554" dy="14.1">，抱着破罐子破摔的态度，或过分自卑，考试</tspan><tspan x="554" dy="14.1">怯场等，我就帮助他们找出适合自己的学习方</tspan><tspan x="554" dy="14.1">法，分析原因，鼓励他们不要害怕失败，要给</tspan><tspan x="554" dy="14.1">自己信心，并且要在平时多读多练，多问几个</tspan><tspan x="554" dy="14.1">为什么。通过一学期努力，能制定好复习计划</tspan><tspan x="554" dy="14.1">，并能认真备好复习课，培养好尖子生，提高</tspan><tspan x="554" dy="14.1">中等生，帮助差生。但由于本学期授课时间较</tspan><tspan x="554" dy="14.1">少，复习内容较多，复习比较仓促，同时发觉</tspan><tspan x="554" dy="14.1">很大一部分学生接受能力较差，学习自觉性不</tspan><tspan x="554" dy="14.1">高。</tspan></text></g>
<g id="b3-note" class="g"><rect x="297" y="3428" width="228" height="79" rx="4"/>
<text><tspan x="304" y="3443">在以后的教学工作中，要不断总结经验，力求</tspan><tspan x="304" dy="14.1">提高自己的教学水平，向教师要时间、向课堂</tspan><tspan x="304" dy="14.1">要质量、向学生要效果，还要多下功夫加强对</tspan><tspan x="304" dy="14.1">个别差生的辅导，相信一切问题都会迎刃而解</tspan><tspan x="304" dy="14.1">，我也相信有耕耘总会有收获!</tspan></text></g>

<g id="b4" class="p">
<rect x="1364" y="3397" width="236" height="29" rx="14" style="fill:#D9245F"/>
<text x="1482" y="3416" text-anchor="middle" class="bn" style="fill:#fff">高中政治学科教学工作总结报告4</text>
<circle cx="1600" cy="3411" r="5.5" fill="#DC2A67" stroke="#fff" stroke-width="1.5"/>
</g>
<g id="b4-intro" class="p"><rect x="1621" y="3347" width="229" height="122" rx="4"/>
<text><tspan x="1628" y="3362">本学期，担任高一年级政治学科23，33，37</tspan><tspan x="1628" dy="14.1">，38，39五个班教学任务。一学期以来，自</tspan><tspan x="1628" dy="14.1">始至终以认真、严谨的治学态度;勤恳、坚持</tspan><tspan x="1628" dy="14.1">不懈的精神从事教学工作。在教学中严格要求</tspan><tspan x="1628" dy="14.1">学生，尊重学生，发扬教学民主，使学生学有</tspan><tspan x="1628" dy="14.1">得;同时自己的教育教学水平和思想觉悟也不</tspan><tspan x="1628" dy="14.1">断提高，顺利地完成了教育教学任务。现将一</tspan><tspan x="1628" dy="14.1">学期以来的具体情况总结如下：</tspan></text></g>
<g id="b4-l1" class="p"><rect x="1871" y="2951" width="111" height="24" rx="4"/><text x="1878" y="2967">一、主要工作和成绩</text></g>
<g id="b4-l1a" class="p"><rect x="2002" y="2498" width="228" height="51" rx="4"/>
<text><tspan x="2009" y="2513">我始终注意培养学生养成良好的学习习惯。在</tspan><tspan x="2009" dy="14.1">教学中，虚心向有经验的教师学习，切实做好</tspan><tspan x="2009" dy="14.1">一切教学常规工作。</tspan></text></g>
<g id="b4-l1b" class="p"><rect x="2002" y="2577" width="228" height="234" rx="4"/>
<text><tspan x="2009" y="2592">作为科任教师的我，不敢懈怠，一开始就认真</tspan><tspan x="2009" dy="14.1">制定教学计划，注重研究中学教学理论，认真</tspan><tspan x="2009" dy="14.1">备课和教学，积极参加教研活动和备课组活动</tspan><tspan x="2009" dy="14.1">，经常听各老师的课，从中吸取教学经验，取</tspan><tspan x="2009" dy="14.1">长补短，提高自己的教学的业务水平。每节课</tspan><tspan x="2009" dy="14.1">都以的精神状态站在教坛上，以和蔼、轻松、</tspan><tspan x="2009" dy="14.1">认真的形象去面对学生。在实施教育教学中，</tspan><tspan x="2009" dy="14.1">尊重学生在教学过程中的主体地位和作用。培</tspan><tspan x="2009" dy="14.1">养学生的自觉性、创造性。尊重学生的独立人</tspan><tspan x="2009" dy="14.1">格，把学习的主动权教给学生，让学生有自己</tspan><tspan x="2009" dy="14.1">的学习时间，重视学生知识和技能的掌握，健</tspan><tspan x="2009" dy="14.1">全人格品质的形成，创新、实践能力和个性的</tspan><tspan x="2009" dy="14.1">发展。为了提高学生的思想品德，我结合现实</tspan><tspan x="2009" dy="14.1">生活中的现象，层层善诱，多方面、多角度去</tspan><tspan x="2009" dy="14.1">培养，创造条件使学生创造力和潜能得以开发</tspan><tspan x="2009" dy="14.1">，形成良好的人格品质。</tspan></text></g>
<g id="b4-l1c" class="p"><rect x="2002" y="2834" width="228" height="122" rx="4"/>
<text><tspan x="2009" y="2849">教育是爱心事业，为培养高素质的下一代，本</tspan><tspan x="2009" dy="14.1">人从学生身心健康出发，根据学生的个性特点</tspan><tspan x="2009" dy="14.1">去点拨引导，对于个别差生，利用课间多次倾</tspan><tspan x="2009" dy="14.1">谈，鼓励其确立正确的学习态度，积极面对人</tspan><tspan x="2009" dy="14.1">生，而对优生，教育其戒骄戒躁努力向上，再</tspan><tspan x="2009" dy="14.1">接再厉，再创佳绩。通过现实生活中的典范，</tspan><tspan x="2009" dy="14.1">让学生树立自觉地从德、智、体、美、劳全方</tspan><tspan x="2009" dy="14.1">面去发展自己的观念，树立崇高远大的理想。</tspan></text></g>
<g id="b4-l1d" class="p"><rect x="2002" y="2979" width="228" height="192" rx="4"/>
<text><tspan x="2009" y="2994">在教育教学中，我始终把教育教学当成一种事</tspan><tspan x="2009" dy="14.1">业来追求，把每一堂课看成是发挥自己创造力</tspan><tspan x="2009" dy="14.1">，施展自己才能的机会，看成是发展自己的一</tspan><tspan x="2009" dy="14.1">个机会，把上好一堂课看成是实现自己价值的</tspan><tspan x="2009" dy="14.1">体现。在教育教学过程中，始终以自己的良好</tspan><tspan x="2009" dy="14.1">形象，人格品质，作学生的表率。多读书，读</tspan><tspan x="2009" dy="14.1">好书，丰富自己的头脑，不断的充实自己，提</tspan><tspan x="2009" dy="14.1">高自己;看新闻看报纸，与时俱进跟上时代的</tspan><tspan x="2009" dy="14.1">脉搏。因为我相信：教师的成功不仅取决于具</tspan><tspan x="2009" dy="14.1">有正确的教育思想，高超的教学水平，教学艺</tspan><tspan x="2009" dy="14.1">术，更需要的是具有高尚人格和师德品质。作</tspan><tspan x="2009" dy="14.1">为“为人师表”的教师，我时刻注意修养自己的</tspan><tspan x="2009" dy="14.1">人格-------师德。</tspan></text></g>
<g id="b4-l1e" class="p"><rect x="2002" y="3198" width="228" height="122" rx="4"/>
<text><tspan x="2009" y="3213">作为教高一政治课的老师，明白自己任务重要</tspan><tspan x="2009" dy="14.1">性，故在课前做到认真备课，多方面去搜集相</tspan><tspan x="2009" dy="14.1">关进行资料。为提高每节课的教学效果，教学</tspan><tspan x="2009" dy="14.1">质量，本人除注重研究教材，把握好基础、重</tspan><tspan x="2009" dy="14.1">点难点外，还广泛搜集材料以多种多样形式授</tspan><tspan x="2009" dy="14.1">课，努力提高学生学习政治的兴趣，调动学生</tspan><tspan x="2009" dy="14.1">学习的积极性、主动性，提高课堂的教学质量</tspan><tspan x="2009" dy="14.1">，按时完成教学任务。</tspan></text></g>
<g id="b4-l1f" class="p"><rect x="2002" y="3344" width="228" height="122" rx="4"/>
<text><tspan x="2009" y="3359">本学期，我在自学、自修反思的基础上，进行</tspan><tspan x="2009" dy="14.1">了探究式教学的尝试，取得了比较好的效果，</tspan><tspan x="2009" dy="14.1">学生的自学能力大大提高了;在工作中，积极</tspan><tspan x="2009" dy="14.1">参与听课、评课，虚心向优秀教师学习，博采</tspan><tspan x="2009" dy="14.1">众长，提高教学水平。为了培养学生多种兴趣</tspan><tspan x="2009" dy="14.1">爱好，看报纸、杂志，听新闻、广播，到图书</tspan><tspan x="2009" dy="14.1">馆博览群书，到网络世界中畅游，不断拓宽知</tspan><tspan x="2009" dy="14.1">识面，为教育教学注入新鲜血液。</tspan></text></g>
<g id="b4-l2" class="p"><rect x="1871" y="3609" width="98" height="24" rx="4"/><text x="1878" y="3625">二、经验和体会：</text></g>
<g id="b4-l2a" class="p"><rect x="1990" y="3491" width="229" height="37" rx="4"/>
<text><tspan x="1997" y="3506">1、严格课堂纪律，培养良好的学科学习风气</tspan><tspan x="1997" dy="14.1">。</tspan></text></g>
<g id="b4-l2b" class="p"><rect x="1990" y="3553" width="229" height="65" rx="4"/>
<text><tspan x="1997" y="3568">2、抓住重难点，运用多种教学方法，借助教</tspan><tspan x="1997" dy="14.1">学媒体，分散教学重点、难点，多采用直观明</tspan><tspan x="1997" dy="14.1">了的教法，考虑学生的实际情况适当降低难度</tspan><tspan x="1997" dy="14.1">，对课后及练习册的练习作必要的讲解分析。</tspan></text></g>
<g id="b4-l2c" class="p"><rect x="1990" y="3644" width="229" height="37" rx="4"/>
<text><tspan x="1997" y="3659">3、适当开展第二课堂活动，充分调动学生的</tspan><tspan x="1997" dy="14.1">学习积极性，提高学生的综合能力。</tspan></text></g>
<g id="b4-l2d" class="p"><rect x="1990" y="3706" width="229" height="51" rx="4"/>
<text><tspan x="1997" y="3721">4、搞好学习互助小组，让学生互帮互学，互</tspan><tspan x="1997" dy="14.1">相监督，以好帮差，以差促好，以利于大面积</tspan><tspan x="1997" dy="14.1">提高该科成绩。</tspan></text></g>
<g id="b4-l3" class="p"><rect x="1871" y="3841" width="142" height="24" rx="4"/><text x="1878" y="3857">三、存在不足与今后打算：</text></g>
<g id="b4-l3a" class="p"><rect x="2033" y="3782" width="229" height="51" rx="4"/>
<text><tspan x="2040" y="3797">1、教学以传统方法为主缺少创新意识，学生</tspan><tspan x="2040" dy="14.1">的学习习惯的养成教育不够成功。培优扶差工</tspan><tspan x="2040" dy="14.1">作做得不够扎实，培优目标不明确;</tspan></text></g>
<g id="b4-l3b" class="p"><rect x="2033" y="3859" width="229" height="80" rx="4"/>
<text><tspan x="2040" y="3874">2、继续更新观念，努力实践主体教学;积极运</tspan><tspan x="2040" dy="14.1">用多媒体电化教学手段，提高教学质量;加大</tspan><tspan x="2040" dy="14.1">科研促教的力度，努力撰写有较高质量的教学</tspan><tspan x="2040" dy="14.1">论文;继续加强业务学习，提高自身的业务素</tspan><tspan x="2040" dy="14.1">质。</tspan></text></g>
<g id="b4-note" class="p"><rect x="2284" y="3879" width="229" height="38" rx="4"/>
<text><tspan x="2291" y="3894">一学期来，工作有得有失，今后我一定会取长</tspan><tspan x="2291" dy="14.1">补短，争取做得更好。</tspan></text></g>

<g id="b5" class="b">
<rect x="799" y="4036" width="234" height="30" rx="6" style="fill:#DDEBFC;stroke:#3A7FDC;stroke-width:1.5"/>
<text x="916" y="4056" text-anchor="middle" class="bn">高中政治学科教学工作总结报告5</text>
<circle cx="799" cy="4051" r="5.5" fill="#3A7FDC" stroke="#fff" stroke-width="1.5"/>
</g>
<g id="b5-1" class="b"><rect x="547" y="3824" width="229" height="94" rx="4"/>
<text><tspan x="554" y="3839">在本学年中，本人担任高一年级的政治学科教</tspan><tspan x="554" dy="14.1">学任务。一个学年以来，本人在教学中严格要</tspan><tspan x="554" dy="14.1">求学生，尊重学生，发扬教学民主，使学生学</tspan><tspan x="554" dy="14.1">有得;同时自己的教育教学水平和思想觉悟也</tspan><tspan x="554" dy="14.1">不断提高，顺利地完成了教育教学任务。现将</tspan><tspan x="554" dy="14.1">一学年以来的情况总结如下：</tspan></text></g>
<g id="b5-1a" class="b"><rect x="297" y="3695" width="229" height="178" rx="4"/>
<text><tspan x="304" y="3710">在教育教学中，本人始终把教育教学当成一种</tspan><tspan x="304" dy="14.1">事业来追求，把每一堂课看成是发挥自己创造</tspan><tspan x="304" dy="14.1">力，施展自己才能的机会，把上好一堂课看成</tspan><tspan x="304" dy="14.1">是实现自己价值的体现。在教育教学过程中，</tspan><tspan x="304" dy="14.1">本人始终以自己的良好形象，人格品质，作学</tspan><tspan x="304" dy="14.1">生的表率。多读书，读好书，丰富自己的头脑</tspan><tspan x="304" dy="14.1">，不断的充实自己，提高自己。看新闻看报纸</tspan><tspan x="304" dy="14.1">，与时俱进跟上时代的脉搏。因为我相信：教</tspan><tspan x="304" dy="14.1">师的成功不仅取决于具有正确的教育思想，高</tspan><tspan x="304" dy="14.1">超的教学水平，教学艺术，更需要的是具有高</tspan><tspan x="304" dy="14.1">尚人格和师德品质。作为“为人师表”的教师，</tspan><tspan x="304" dy="14.1">我时刻注意修养自己的人格-------师德。</tspan></text></g>
<g id="b5-1b" class="b"><rect x="297" y="3898" width="229" height="122" rx="4"/>
<text><tspan x="304" y="3913">作为新任教的高一政治课的老师，本人明白自</tspan><tspan x="304" dy="14.1">己任务重要性，故在课前做到认真备课，多方</tspan><tspan x="304" dy="14.1">面去搜集相关进行资料。为提高每节课的教学</tspan><tspan x="304" dy="14.1">效果，教学质量，本人除注重研究教材，把握</tspan><tspan x="304" dy="14.1">好基础、重点难点外，还广泛搜集材料以多种</tspan><tspan x="304" dy="14.1">多样形式授课，努力提高学生学习政治的兴趣</tspan><tspan x="304" dy="14.1">，调动学生学习的积极性、主动性，提高课堂</tspan><tspan x="304" dy="14.1">的教学质量，按时完成教学任务。</tspan></text></g>
<g id="b5-2" class="b"><rect x="547" y="4212" width="229" height="37" rx="4"/>
<text><tspan x="554" y="4227">一年来，本人体验到作为一名人民教师的酸甜</tspan><tspan x="554" dy="14.1">苦辣，以下是本人教学的一些体会：</tspan></text></g>
<g id="b5-2a" class="b"><rect x="297" y="4044" width="229" height="37" rx="4"/>
<text><tspan x="304" y="4059">1、教师要严格课堂纪律，培养良好的学科学</tspan><tspan x="304" dy="14.1">习风气。</tspan></text></g>
<g id="b5-2b" class="b"><rect x="297" y="4107" width="229" height="65" rx="4"/>
<text><tspan x="304" y="4122">2、抓住重难点，运用多种教学方法，借助教</tspan><tspan x="304" dy="14.1">学媒体，分散教学重点、难点，多采用直观明</tspan><tspan x="304" dy="14.1">了的教法，考虑学生的实际情况适当降低难度</tspan><tspan x="304" dy="14.1">，对课后及练习册的练习作必要的讲解分析。</tspan></text></g>
<g id="b5-2c" class="b"><rect x="297" y="4378" width="229" height="37" rx="4"/>
<text><tspan x="304" y="4393">3、适当开展第二课堂活动，充分调动学生的</tspan><tspan x="304" dy="14.1">学习积极性，提高学生的综合能力。</tspan></text></g>
<g id="b5-2c1" class="b"><rect x="47" y="4197" width="229" height="150" rx="4"/>
<text><tspan x="54" y="4212">除了平时的教育教学工作外，本人还积极参加</tspan><tspan x="54" dy="14.1">教研活动,并申请了一个省级课题，不断地充</tspan><tspan x="54" dy="14.1">实自己的科研能力。在教学上，本人虚心请教</tspan><tspan x="54" dy="14.1">其他老师。对于各个章节的重难点内容的处理</tspan><tspan x="54" dy="14.1">都积极征求同组的其它教师的意见，向他们学</tspan><tspan x="54" dy="14.1">习如何处理教材的重点。在学习方法上，多听</tspan><tspan x="54" dy="14.1">老教师的课，本人做到边听边讲边记，学习其</tspan><tspan x="54" dy="14.1">它教师处理教学内容的方法，克服自己的不足</tspan><tspan x="54" dy="14.1">。同时在本校中，认真听课，并且做好听课记</tspan><tspan x="54" dy="14.1">录，以便能够进行学习。</tspan></text></g>
<g id="b5-2c2" class="b"><rect x="47" y="4372" width="229" height="94" rx="4"/>
<text><tspan x="54" y="4387">本学年，由于本人在实践中努力摸索领悟;在</tspan><tspan x="54" dy="14.1">工作中认真学习;在学习中仔细研讨总结;在总</tspan><tspan x="54" dy="14.1">结中成长、前进;各方面有了很大的进步和提</tspan><tspan x="54" dy="14.1">高。切实有效的由新课程的旁观者，变成新课</tspan><tspan x="54" dy="14.1">程的参与者和实践者，投身到新课程改革中，</tspan><tspan x="54" dy="14.1">并在实践中臻于成熟。</tspan></text></g>
<g id="b5-2c3" class="b"><rect x="47" y="4492" width="229" height="65" rx="4"/>
<text><tspan x="54" y="4507">总而言之，在以后的教学生涯中，我会不断地</tspan><tspan x="54" dy="14.1">反思自己的教学实践，从而使自己产生新的尝</tspan><tspan x="54" dy="14.1">试_，再实践、再反思、再更新，无限循环，</tspan><tspan x="54" dy="14.1">让自己更好地成长!</tspan></text></g>

<g id="b6" class="u">
<rect x="1364" y="4168" width="268" height="51" rx="25" style="fill:#7C3AE6"/>
<text style="fill:#fff;font-size:14.2px"><tspan x="1389" y="4189">高中政治学科教学工作总结报告相</tspan><tspan x="1389" y="4207">关文章：</tspan></text>
</g>
<g id="b6-1" class="u"><rect x="1654" y="3964" width="203" height="24" rx="4"/><text x="1660" y="3980">★ 高中政治个人教学工作总结与深思5篇</text></g>
<g id="b6-2" class="u"><rect x="1654" y="4012" width="181" height="24" rx="4"/><text x="1660" y="4028">★ 高一上学期政治教学工作总结5篇</text></g>
<g id="b6-3" class="u"><rect x="1654" y="4061" width="175" height="24" rx="4"/><text x="1660" y="4077">★ 学校政治教师教学工作总结范文</text></g>
<g id="b6-4" class="u"><rect x="1654" y="4109" width="178" height="24" rx="4"/><text x="1660" y="4125">★ 高一期末政治教学工作总结2021</text></g>
<g id="b6-5" class="u"><rect x="1654" y="4158" width="181" height="24" rx="4"/><text x="1660" y="4174">★ 高一政治备课组教学工作总结5篇</text></g>
<g id="b6-6" class="u"><rect x="1654" y="4206" width="152" height="24" rx="4"/><text x="1660" y="4222">★ 2021政治教学工作总结5篇</text></g>
<g id="b6-7" class="u"><rect x="1654" y="4255" width="192" height="24" rx="4"/><text x="1660" y="4271">★ 理科政治老师学期教学工作总结5篇</text></g>
<g id="b6-8" class="u"><rect x="1654" y="4303" width="178" height="24" rx="4"/><text x="1660" y="4319">★ 2021高中政治生活学期教学总结</text></g>
<g id="b6-9" class="u"><rect x="1654" y="4352" width="175" height="24" rx="4"/><text x="1660" y="4368">★ 政治教师教学工作个人总结范文</text></g>
<g id="b6-10" class="u"><rect x="1654" y="4401" width="211" height="24" rx="4"/><text x="1660" y="4417">★ 新学期政治教师教学工作经验总结2021</text></g>
</g>
</svg>
